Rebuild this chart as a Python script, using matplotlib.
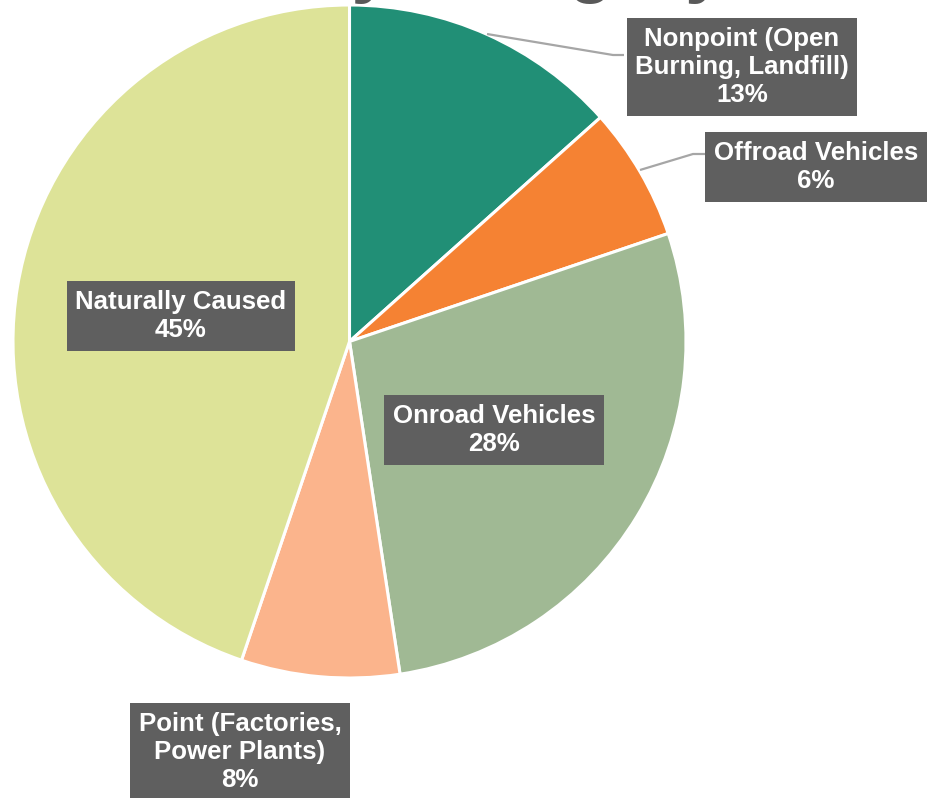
import matplotlib.pyplot as plt

# emission share by category (percent), clockwise from the top
categories = ["Nonpoint (Open\nBurning, Landfill)", "Offroad Vehicles", "Onroad Vehicles",
              "Point (Factories,\nPower Plants)", "Naturally Caused"]
shares = [13.4, 6.4, 27.8, 7.6, 44.8]
colors = ["#218f76", "#f58233", "#a0b994", "#fbb48c", "#dde398"]

# label placement in pixel space (x, y from top)
label_pos = [(742, 67), (816, 167), (494, 430), (240, 752), (181, 316)]
leaders = {
    0: [(487, 34), (613, 55), (624, 55)],
    1: [(640, 170), (693, 154), (705, 154)],
}

W, H = 927, 798
fig = plt.figure(figsize=(W / 100, H / 100), dpi=100)
ax = fig.add_axes([0, 0, 1, 1])

ax.pie(shares, colors=colors, startangle=90, counterclock=False,
       center=(349.5, H - 341.5), radius=336.5,
       wedgeprops=dict(edgecolor="white", linewidth=2.2))

for i, pts in leaders.items():
    xs = [p[0] for p in pts]
    ys = [H - p[1] for p in pts]
    ax.plot(xs, ys, color="#a6a6a6", lw=1.6, solid_capstyle="butt")

for cat, val, (x, y) in zip(categories, shares, label_pos):
    ax.text(x, H - y, "{}\n{}%".format(cat, round(val)), ha="center", va="center",
            color="white", fontsize=18.6, fontweight="bold", family="Liberation Sans",
            linespacing=1.22,
            bbox=dict(boxstyle="square,pad=0.33", fc="#5f5f5f", ec="none"))

# title sits mostly above the visible area
ax.text(725, H + 11, "Emissions by Category", ha="right", va="baseline",
        color="#595959", fontsize=52, fontweight="bold", family="Liberation Sans")

ax.set_xlim(0, W)
ax.set_ylim(0, H)
ax.set_aspect("equal")
ax.axis("off")

plt.savefig("out.png", dpi=100)
